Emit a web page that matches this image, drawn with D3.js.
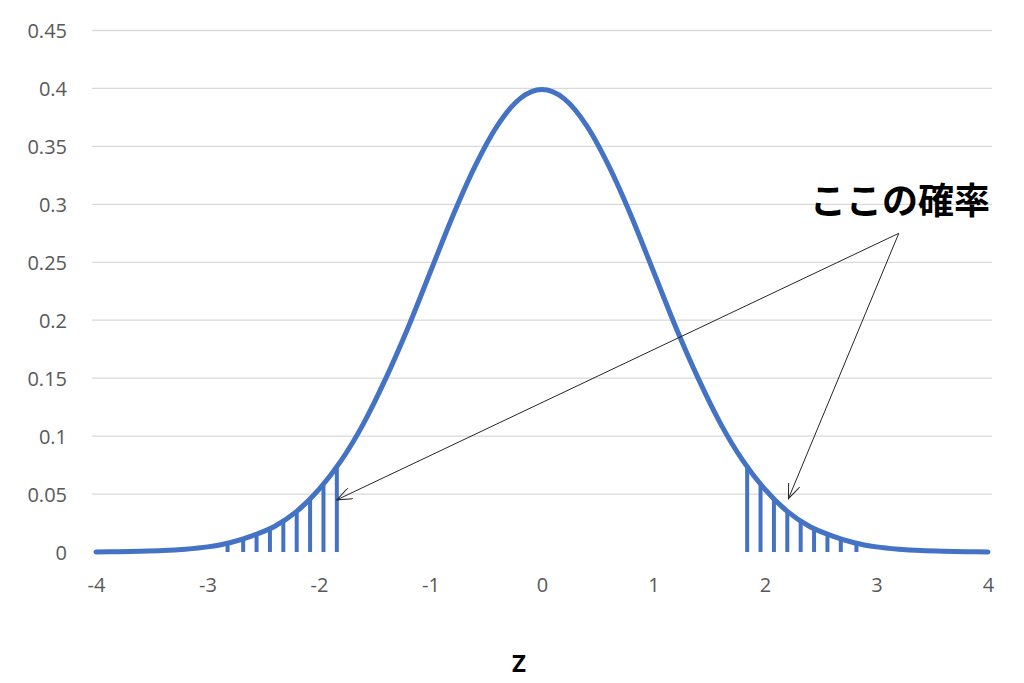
<!DOCTYPE html>
<html>
<head>
<meta charset="utf-8">
<script src="https://cdn.jsdelivr.net/npm/d3@7"></script>
<style>
  body { margin: 0; background: #fff; }
  .tick text { font-family: "Open Sans", sans-serif; fill: #595959; }
</style>
</head>
<body>
<div id="chart"></div>
<script>
// z values and density
var zValues = [-4, -3.8, -3.6, -3.4, -3.2, -3, -2.8, -2.6, -2.4, -2.2, -2, -1.8, -1.6, -1.4, -1.2, -1, -0.8, -0.6, -0.4, -0.2,
  0, 0.2, 0.4, 0.6, 0.8, 1, 1.2, 1.4, 1.6, 1.8, 2, 2.2, 2.4, 2.6, 2.8, 3, 3.2, 3.4, 3.6, 3.8, 4];
var density = [0.0001, 0.0003, 0.0006, 0.0012, 0.0024, 0.0044, 0.008, 0.014, 0.022, 0.035, 0.054, 0.079, 0.111, 0.150, 0.194, 0.242, 0.290, 0.333, 0.368, 0.391,
  0.399, 0.391, 0.368, 0.333, 0.290, 0.242, 0.194, 0.150, 0.111, 0.079, 0.054, 0.035, 0.022, 0.014, 0.008, 0.0044, 0.0024, 0.0012, 0.0006, 0.0003, 0.0001];

// shaded tails (vertical hatch lines)
var hatchLeftZ = [-2.82, -2.68, -2.56, -2.44, -2.32, -2.20, -2.08, -1.96, -1.84];
var hatchLeftP = [0.0075, 0.011, 0.015, 0.020, 0.027, 0.035, 0.046, 0.058, 0.073];
var hatchRightZ = [1.84, 1.96, 2.08, 2.20, 2.32, 2.44, 2.56, 2.68, 2.82];
var hatchRightP = [0.073, 0.058, 0.046, 0.035, 0.027, 0.020, 0.015, 0.011, 0.0075];

var xTicks = [-4, -3, -2, -1, 0, 1, 2, 3, 4];
var yTicks = [0, 0.05, 0.1, 0.15, 0.2, 0.25, 0.3, 0.35, 0.4, 0.45];

var labelText = "ここの確率";
var labelZ = 3.2, labelP = 0.275;          // where the arrows start
var arrowTargets = [[-1.84, 0.045], [2.21, 0.046]];

var svgWidth = 1024;
var svgHeight = 683;
var blue = "#4472C4";

var svg = d3.select("#chart")
  .append("svg")
  .attr("width", svgWidth)
  .attr("height", svgHeight);

var x = d3.scaleLinear().domain([-4, 4]).range([96, 988]);
var y = d3.scaleLinear().domain([0, 0.45]).range([552, 30.5]);

// gridlines
svg.append("g")
  .selectAll("line")
  .data(yTicks.slice(1))
  .enter()
  .append("line")
  .attr("x1", 92)
  .attr("x2", 992)
  .attr("y1", d => y(d))
  .attr("y2", d => y(d))
  .attr("stroke", "#d9d9d9")
  .attr("stroke-width", 1.3);

// y axis labels
var leftAxis = d3.axisLeft(y).tickValues(yTicks).tickSize(0).tickPadding(0)
  .tickFormat(d => String(+d.toFixed(2)));
var yAxisG = svg.append("g")
  .attr("transform", "translate(67,0)")
  .call(leftAxis);
yAxisG.select(".domain").remove();
yAxisG.selectAll("text").style("font-size", "20px").attr("dy", "0.36em");

// x axis labels (plain hyphen for negatives, like the original)
var bottomAxis = d3.axisBottom(x).tickValues(xTicks).tickSize(0).tickPadding(0)
  .tickFormat(d => String(d));
var xAxisG = svg.append("g")
  .attr("transform", "translate(0,577)")
  .call(bottomAxis);
xAxisG.select(".domain").remove();
xAxisG.selectAll("text").style("font-size", "20px").attr("dy", "0.75em");

// hatch lines in both tails
var hatch = hatchLeftZ.map((z, i) => [z, hatchLeftP[i]])
  .concat(hatchRightZ.map((z, i) => [z, hatchRightP[i]]));
svg.append("g")
  .selectAll("line")
  .data(hatch)
  .enter()
  .append("line")
  .attr("x1", d => x(d[0]))
  .attr("x2", d => x(d[0]))
  .attr("y1", y(0))
  .attr("y2", d => y(d[1]))
  .attr("stroke", blue)
  .attr("stroke-width", 4);

// density curve
var pts = zValues.map((z, i) => [z, density[i]]);
var line = d3.line()
  .x(d => x(d[0]))
  .y(d => y(d[1]))
  .curve(d3.curveMonotoneX);
svg.append("path")
  .datum(pts)
  .attr("d", line)
  .attr("fill", "none")
  .attr("stroke", blue)
  .attr("stroke-width", 5)
  .attr("stroke-linecap", "round")
  .attr("stroke-linejoin", "round");

// annotation arrows
svg.append("defs").append("marker")
  .attr("id", "arrow")
  .attr("viewBox", "0 0 16 12")
  .attr("refX", 15)
  .attr("refY", 6)
  .attr("markerWidth", 16)
  .attr("markerHeight", 12)
  .attr("markerUnits", "userSpaceOnUse")
  .attr("orient", "auto")
  .append("path")
  .attr("d", "M0,0 L15,6 L0,12")
  .attr("fill", "none")
  .attr("stroke", "#262626")
  .attr("stroke-width", 1);

svg.append("g")
  .selectAll("line")
  .data(arrowTargets)
  .enter()
  .append("line")
  .attr("x1", x(labelZ))
  .attr("y1", y(labelP))
  .attr("x2", d => x(d[0]))
  .attr("y2", d => y(d[1]))
  .attr("stroke", "#262626")
  .attr("stroke-width", 1)
  .attr("marker-end", "url(#arrow)");

svg.append("text")
  .attr("x", 900)
  .attr("y", 214)
  .attr("text-anchor", "middle")
  .style("font-family", "'Noto Sans CJK JP', sans-serif")
  .style("font-weight", "bold")
  .style("font-size", "36px")
  .style("fill", "#000")
  .text(labelText);

// axis title
svg.append("text")
  .attr("x", 519)
  .attr("y", 672)
  .attr("text-anchor", "middle")
  .style("font-family", "'Open Sans', sans-serif")
  .style("font-weight", "bold")
  .style("font-size", "24px")
  .style("fill", "#000")
  .text("Z");
</script>
</body>
</html>
